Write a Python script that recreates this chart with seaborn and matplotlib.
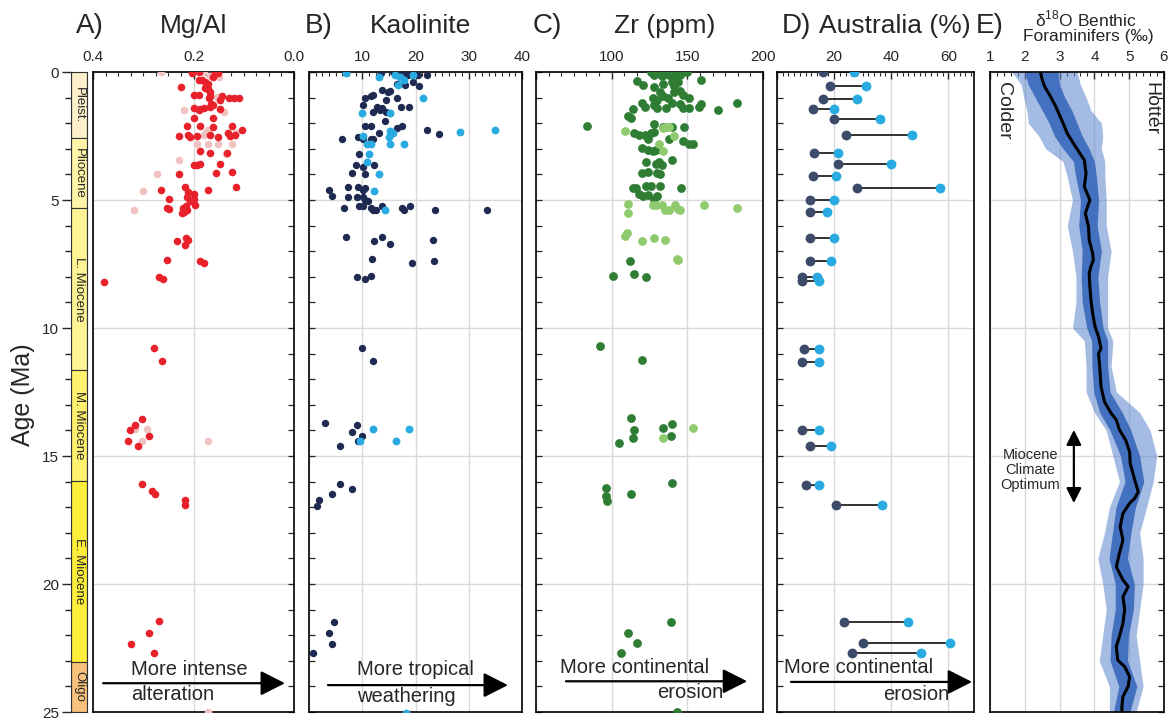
import numpy as np
import pandas as pd
import matplotlib
matplotlib.use("Agg")
import matplotlib.pyplot as plt
from matplotlib.ticker import MultipleLocator
import seaborn as sns

# ---------------- data ----------------
# Geological time scale bar
epoch_names = ["Pleist.", "Pliocene", "L. Miocene", "M. Miocene", "E. Miocene", "Oligo"]
epoch_start = [0.0, 2.58, 5.33, 11.63, 15.97, 23.03]
epoch_end = [2.58, 5.33, 11.63, 15.97, 23.03, 25.0]
epoch_colors = ["#FEF0CA", "#FFF5A8", "#FFF494", "#FFF06E", "#FCEE3A", "#F9C27C"]

# A) Mg/Al
A_red_mgal = [0.202, 0.19, 0.158, 0.152, 0.19, 0.183, 0.178, 0.172, 0.162, 0.224, 0.178, 0.172, 0.168, 0.2, 0.19,
              0.17, 0.168, 0.144, 0.13, 0.12, 0.11, 0.148, 0.162, 0.165, 0.168, 0.2, 0.188, 0.18, 0.19, 0.148,
              0.2, 0.162, 0.212, 0.188, 0.162, 0.124, 0.104, 0.228, 0.21, 0.206, 0.194, 0.168, 0.152, 0.132,
              0.128, 0.118, 0.188, 0.168, 0.134, 0.2, 0.194, 0.188, 0.148, 0.228, 0.156, 0.124, 0.264, 0.216,
              0.172, 0.116, 0.21, 0.2, 0.212, 0.2, 0.207, 0.197, 0.248, 0.252, 0.248, 0.22, 0.215, 0.212, 0.222,
              0.218, 0.232, 0.214, 0.21, 0.217, 0.252, 0.188, 0.18, 0.268, 0.26, 0.378, 0.278, 0.262, 0.302,
              0.316, 0.326, 0.288, 0.33, 0.31, 0.302, 0.282, 0.276, 0.216, 0.216, 0.268, 0.288, 0.324, 0.278]
A_red_age = [0.04, 0.0, 0.0, 0.05, 0.3, 0.3, 0.4, 0.45, 0.2, 0.6, 0.62, 0.65, 0.78, 0.9, 0.9,
             1.0, 0.95, 0.93, 1.0, 1.0, 1.0, 1.1, 1.3, 1.25, 1.38, 1.4, 1.45, 1.42, 1.5, 1.45,
             1.8, 1.8, 2.1, 2.1, 2.15, 2.1, 2.25, 2.5, 2.45, 2.55, 2.5, 2.45, 2.55, 2.4,
             2.5, 2.45, 3.08, 3.15, 3.15, 3.65, 3.65, 3.6, 3.6, 4.0, 3.95, 3.9, 4.6, 4.5,
             4.6, 4.5, 4.7, 4.75, 4.9, 4.95, 5.05, 5.2, 4.96, 5.3, 5.35, 5.3, 5.25, 5.4, 5.5,
             5.45, 6.6, 6.5, 6.55, 6.75, 7.35, 7.4, 7.45, 8.0, 8.1, 8.2, 10.8, 11.3, 13.55,
             13.8, 14.0, 14.2, 14.4, 14.6, 16.1, 16.35, 16.5, 16.7, 16.9, 21.45, 21.9, 22.35, 22.7]
A_pink_mgal = [0.264, 0.18, 0.168, 0.15, 0.155, 0.218, 0.154, 0.14, 0.172, 0.176, 0.18, 0.116, 0.194, 0.172,
               0.152, 0.124, 0.136, 0.228, 0.272, 0.3, 0.318, 0.316, 0.292, 0.302, 0.172, 0.172]
A_pink_age = [0.0, 0.0, 0.15, 0.2, 0.05, 1.5, 0.97, 1.55, 2.25, 2.35, 2.45, 2.4, 2.8, 2.8,
              2.8, 2.8, 3.2, 3.45, 4.0, 4.65, 5.4, 13.95, 13.95, 14.4, 14.4, 25.0]

# B) Kaolinite
B_dark_kao = [13.5, 15.7, 16.4, 17.4, 18.5, 20.5, 22.2, 16.6, 18.1, 19.6, 20.7, 13.8, 14.8, 15.3, 16.6, 12.1,
              11.6, 10.6, 10.1, 12.7, 13.2, 13.8, 14.4, 17.2, 18.7, 12.1, 13.3, 14.4, 15.3, 14.2, 10.6, 11.6,
              16.6, 17.4, 22.2, 24.5, 6.2, 9.2, 10.1, 11.6, 12.1, 13.1, 9.3, 8.8, 10.1, 8.0, 10.6, 12.3, 3.7,
              4.3, 7.3, 7.3, 9.2, 10.1, 10.6, 9.0, 10.1, 10.6, 11.0, 6.5, 9.3, 10.1, 11.6, 12.5, 12.1, 13.8,
              17.5, 17.8, 18.9, 23.7, 33.5, 6.9, 12.3, 13.8, 15.3, 23.2, 11.8, 19.3, 23.4, 9.0, 10.5, 11.6,
              9.9, 12.0, 3.0, 8.0, 9.0, 9.9, 9.2, 5.8, 5.8, 8.0, 4.3, 1.9, 1.5, 4.7, 3.7, 4.3, 0.7]
B_dark_age = [0.05, 0.0, 0.05, 0.05, 0.1, 0.1, 0.1, 0.45, 0.5, 0.4, 0.55, 0.7, 0.8, 0.75, 1.0, 0.9,
              0.95, 1.0, 1.3, 1.35, 1.45, 1.4, 1.1, 1.35, 1.35, 1.55, 1.5, 1.55, 1.6, 1.9, 2.1, 2.1,
              2.2, 2.1, 2.27, 2.42, 2.6, 2.55, 2.6, 2.6, 2.6, 2.4, 3.2, 3.65, 3.7, 3.95, 4.0, 3.63, 4.6,
              4.85, 4.5, 4.9, 4.5, 4.6, 4.55, 4.9, 4.9, 5.0, 5.05, 5.3, 5.25, 5.25, 5.3, 5.4, 5.4, 5.25,
              5.3, 5.4, 5.25, 5.4, 5.4, 6.45, 6.6, 6.45, 6.7, 6.55, 7.3, 7.47, 7.4, 8.0, 8.1, 7.95,
              10.8, 11.3, 13.7, 14.05, 13.8, 14.2, 14.4, 14.6, 16.1, 16.3, 16.5, 16.7, 16.95, 21.5, 21.9, 22.35, 22.7]
B_light_kao = [6.9, 13.1, 16.1, 17.1, 17.8, 19.6, 16.8, 21.5, 9.9, 15.3, 15.3, 15.7, 15.0, 28.4, 35.0, 10.1,
               10.8, 11.6, 15.3, 17.8, 11.2, 10.8, 13.1, 12.3, 14.2, 12.0, 18.7, 9.5, 16.4, 18.3]
B_light_age = [0.05, 0.2, 0.1, 0.2, 0.3, 0.1, 0.5, 1.0, 1.6, 1.6, 2.3, 2.4, 2.55, 2.35, 2.27, 2.5,
               2.8, 2.8, 2.8, 2.8, 3.2, 3.5, 4.0, 4.65, 5.4, 13.95, 13.95, 14.4, 14.4, 25.05]

# C) Zr (ppm)
C_dark_zr = [126, 129, 132, 136, 140, 144, 147, 150, 128, 133, 138, 142, 145, 117, 121, 159, 128, 134, 140, 144,
             141, 132, 134, 137, 141, 145, 147, 151, 127, 130, 120, 122, 128, 130, 136, 140, 145, 147, 151, 158,
             159, 170, 183, 114, 111, 113, 84, 128, 134, 140, 148, 115, 118, 122, 126, 128, 124, 138, 147, 151,
             154, 120, 124, 127, 129, 140, 123, 129, 133, 131, 120, 124, 130, 132, 114, 116, 123, 126, 132, 146,
             118, 121, 124, 128, 130, 112, 101, 115, 123, 92, 120, 113, 115, 114, 105, 134, 140, 139, 96, 96,
             97, 113, 140, 139, 111, 117, 106, 143]
C_dark_age = [0.0, 0.05, 0.0, 0.0, 0.0, 0.0, 0.0, 0.0, 0.12, 0.15, 0.12, 0.1, 0.1, 0.35, 0.5, 0.3, 0.6, 0.45, 0.4, 0.38,
              0.55, 0.8, 0.95, 1.0, 0.8, 0.75, 0.9, 1.0, 1.0, 1.1, 1.2, 1.35, 1.3, 1.4, 1.4, 1.2, 1.25, 1.4, 1.4, 1.35,
              1.25, 1.5, 1.2, 1.45, 1.7, 1.8, 2.1, 2.05, 2.15, 2.15, 2.15, 2.4, 2.45, 2.45, 2.4, 2.35, 2.6, 2.6, 2.7, 2.8,
              2.8, 2.95, 3.05, 3.1, 3.05, 3.45, 3.5, 3.6, 3.65, 3.5, 3.95, 3.9, 3.95, 4.0, 4.55, 4.55, 4.45, 4.45, 4.45, 4.55,
              4.75, 4.85, 4.8, 4.95, 4.85, 7.4, 7.97, 7.9, 8.0, 10.7, 11.25, 13.5, 13.97, 14.3, 14.5, 13.9, 13.75, 14.2, 16.25, 16.55,
              16.75, 16.5, 16.05, 21.5, 21.9, 22.3, 22.7, 25.0]
C_light_zr = [109, 134, 136, 138, 141, 131, 134, 111, 111, 127, 129, 133, 135, 138, 142, 144, 145, 161, 183,
              109, 110, 120, 128, 135, 143, 144, 134, 154]
C_light_age = [2.3, 2.2, 2.15, 2.15, 2.5, 2.8, 3.1, 5.15, 5.5, 5.2, 5.2, 5.2, 5.4, 5.4, 5.2, 5.35, 5.4, 5.2, 5.3,
               6.4, 6.3, 6.6, 6.5, 6.55, 7.3, 7.35, 14.3, 13.9]

# D) Australia (%) - paired estimates
D_age = [0.0, 0.55, 1.06, 1.45, 1.85, 2.46, 3.15, 3.6, 4.06, 4.53, 5.0, 5.45, 6.5, 7.37, 8.0, 8.15,
         10.83, 11.32, 13.98, 14.6, 16.13, 16.9, 21.48, 22.3, 22.7]
D_low = [16.0, 18.4, 16.0, 12.5, 19.9, 24.3, 13.0, 21.4, 12.5, 28.1, 11.6, 11.6, 11.6, 11.6, 8.7, 8.7,
         9.4, 8.7, 8.7, 11.6, 10.1, 20.5, 23.3, 30.2, 26.4]
D_high = [27.1, 31.0, 28.1, 19.9, 36.2, 47.3, 21.5, 40.0, 20.5, 57.1, 19.9, 17.6, 19.9, 19.0, 14.0, 14.6,
          14.6, 14.6, 14.6, 18.8, 14.6, 36.8, 45.9, 60.5, 50.4]

# E) benthic foraminifera d18O: running mean and spread of the data cloud
E_line_age = [0.0, 0.3, 0.57, 0.96, 1.35, 2.0, 2.4, 2.9, 3.44, 3.96, 4.48, 5.0, 5.52, 6.04, 6.56, 7.08, 7.34,
              7.6, 7.86, 8.39, 8.9, 9.43, 9.95, 10.34, 10.79, 11.0, 11.64, 12.29, 12.88, 13.33, 13.59, 13.98,
              14.38, 14.83, 15.29, 15.94, 16.4, 16.65, 16.85, 17.24, 17.76, 18.28, 18.8, 19.33, 19.84, 20.1,
              20.5, 21.0, 21.53, 22.05, 22.45, 22.97, 23.23, 23.62, 24.0, 24.4, 24.8, 25.0]
E_line_d18o = [2.45, 2.5, 2.57, 2.74, 2.89, 3.1, 3.22, 3.45, 3.71, 3.76, 3.71, 3.87, 3.74, 3.83, 3.85, 3.95, 3.97,
               3.9, 3.85, 3.87, 3.9, 3.95, 4.02, 4.12, 4.19, 4.12, 4.16, 4.19, 4.29, 4.48, 4.63, 4.72,
               4.9, 5.01, 5.03, 5.16, 5.26, 5.16, 5.01, 4.82, 4.74, 4.82, 4.72, 4.63, 4.82, 4.97,
               4.82, 4.87, 4.82, 4.72, 4.63, 4.67, 4.87, 5.01, 4.97, 4.82, 4.79, 4.79]
E_band_age = [0, 0.5, 1, 1.5, 2, 2.5, 3, 3.5, 4, 5, 6, 7, 8, 9, 10, 10.5, 11.5, 12.5, 13.3, 14, 15, 16, 17,
              18, 19, 20, 21, 22, 23, 24, 25]
E_outer_lo = [1.63, 1.9, 1.97, 2.06, 2.1, 2.4, 2.6, 3.1, 3.2, 3.37, 3.22, 3.37, 3.47, 3.47, 3.37, 3.71, 3.76,
              3.76, 4.0, 4.34, 4.53, 4.72, 4.43, 4.29, 4.1, 4.24, 4.34, 4.24, 4.14, 4.43, 4.43]
E_outer_hi = [3.5, 3.6, 3.76, 3.9, 4.2, 4.24, 4.2, 4.3, 4.3, 4.34, 4.34, 4.48, 4.38, 4.38, 4.38, 4.53, 4.48,
              4.63, 5.3, 5.6, 5.79, 5.69, 5.5, 5.3, 5.4, 5.4, 5.3, 5.2, 5.3, 5.4, 5.2]
E_core_lo = [2.0, 2.1, 2.3, 2.5, 2.7, 2.85, 3.1, 3.4, 3.45, 3.6, 3.55, 3.65, 3.62, 3.65, 3.78, 3.92, 3.93,
             3.98, 4.15, 4.45, 4.75, 4.88, 4.62, 4.52, 4.42, 4.6, 4.6, 4.48, 4.45, 4.7, 4.55]
E_core_hi = [2.95, 3.0, 3.15, 3.35, 3.5, 3.65, 3.85, 4.0, 4.05, 4.12, 4.08, 4.2, 4.1, 4.15, 4.25, 4.38, 4.38,
             4.45, 4.8, 5.05, 5.3, 5.42, 5.18, 5.05, 4.95, 5.15, 5.12, 4.98, 4.95, 5.22, 5.02]

# ---------------- style ----------------
sns.set_style("ticks")
plt.rcParams['font.family'] = ['Liberation Sans', 'DejaVu Sans']
plt.rcParams['mathtext.fontset'] = 'custom'
plt.rcParams['mathtext.rm'] = 'Liberation Sans'
plt.rcParams['axes.linewidth'] = 1.2

W, H = 1175, 721
TOP, BOT = 72, 712
fig = plt.figure(figsize=(W / 100, H / 100), dpi=100)


def rect(x0, x1):
    return [x0 / W, (H - BOT) / H, (x1 - x0) / W, (BOT - TOP) / H]


GRID = "#d9d9d9"


def setup(ax, xlim, major, labels, minor, left=False, right=False):
    ax.set_xlim(*xlim)
    ax.set_ylim(25, 0)
    ax.set_xlabel("")
    ax.set_ylabel("")
    ax.set_axisbelow(True)
    ax.xaxis.set_ticks_position('top')
    ax.set_xticks(major)
    ax.set_xticklabels(labels)
    ax.xaxis.set_minor_locator(MultipleLocator(minor))
    ax.tick_params(axis='x', which='major', direction='in', length=5, width=1, labelsize=11, pad=6,
                   top=True, bottom=False, labeltop=True, labelbottom=False)
    ax.tick_params(axis='x', which='minor', direction='in', length=3, width=0.8, top=True, bottom=False)
    ax.yaxis.set_major_locator(MultipleLocator(5))
    ax.yaxis.set_minor_locator(MultipleLocator(1))
    ax.tick_params(axis='y', which='both', direction='in', length=4, width=0.9, left=left, right=right,
                   labelleft=False, labelright=False)
    ax.grid(True, which='major', color=GRID, lw=1)
    for s in ax.spines.values():
        s.set_visible(True)
        s.set_color('black')
        s.set_linewidth(1.2)


def arrow_text(ax, x0, x1, y, line1, x_l1, y_l1, line2, x_l2, y_l2, ha2='left'):
    ax.annotate('', xy=(x1, y), xytext=(x0, y), xycoords='axes fraction', textcoords='axes fraction',
                arrowprops=dict(arrowstyle='-|>,head_length=0.75,head_width=0.38', color='black', lw=1.6,
                                mutation_scale=20, shrinkA=0, shrinkB=0))
    ax.text(x_l1, y_l1, line1, transform=ax.transAxes, fontsize=14.5, ha='left', va='center')
    ax.text(x_l2, y_l2, line2, transform=ax.transAxes, fontsize=14.5, ha=ha2, va='center')


# ---------------- epoch bar ----------------
ax0 = fig.add_axes(rect(71, 87))
ep = pd.DataFrame({"name": epoch_names, "start": epoch_start, "end": epoch_end, "color": epoch_colors})
ax0.bar(np.zeros(len(ep)), ep["end"] - ep["start"], bottom=ep["start"], width=1.0,
        color=ep["color"], edgecolor="#333333", linewidth=0.8)
for _, r in ep.iterrows():
    ax0.text(0, (r["start"] + r["end"]) / 2, r["name"], rotation=-90, ha='center', va='center', fontsize=9.5)
ax0.set_xlim(-0.5, 0.5)
ax0.set_ylim(25, 0)
ax0.set_xticks([])
ax0.yaxis.set_major_locator(MultipleLocator(5))
ax0.yaxis.set_minor_locator(MultipleLocator(1))
ax0.tick_params(axis='y', which='major', direction='out', length=6.5, width=1, labelsize=11, pad=2)
ax0.tick_params(axis='y', which='minor', direction='out', length=4, width=1)
for s in ax0.spines.values():
    s.set_linewidth(0.8)
    s.set_color('#333333')
fig.text(23 / W, 1 - 395 / H, "Age (Ma)", rotation=90, ha='center', va='center', fontsize=18)

# ---------------- A) Mg/Al ----------------
axA = fig.add_axes(rect(93, 294))
dfA_r = pd.DataFrame({"mgal": A_red_mgal, "age": A_red_age})
dfA_p = pd.DataFrame({"mgal": A_pink_mgal, "age": A_pink_age})
sns.scatterplot(data=dfA_p, x="mgal", y="age", ax=axA, color="#F1C2C2", s=30, linewidth=0, legend=False, zorder=3)
sns.scatterplot(data=dfA_r, x="mgal", y="age", ax=axA, color="#E8222B", s=30, linewidth=0, legend=False, zorder=4)
setup(axA, (0.4, 0.0), [0.4, 0.2, 0.0], ["0.4", "0.2", "0.0"], 0.025, right=True)
arrow_text(axA, 0.05, 0.955, 0.045, "More intense", 0.19, 0.067, "alteration", 0.19, 0.027)

# ---------------- B) Kaolinite ----------------
axB = fig.add_axes(rect(309, 522))
dfB_d = pd.DataFrame({"kao": B_dark_kao, "age": B_dark_age})
dfB_l = pd.DataFrame({"kao": B_light_kao, "age": B_light_age})
sns.scatterplot(data=dfB_d, x="kao", y="age", ax=axB, color="#1E2A52", s=28, linewidth=0, legend=False, zorder=3)
sns.scatterplot(data=dfB_l, x="kao", y="age", ax=axB, color="#29ABE2", s=32, linewidth=0, legend=False, zorder=4)
setup(axB, (0, 40), [0, 10, 20, 30, 40], ["", "10", "20", "30", "40"], 1.25, left=True)
arrow_text(axB, 0.089, 0.934, 0.042, "More tropical", 0.225, 0.066, "weathering", 0.225, 0.024)

# ---------------- C) Zr ----------------
axC = fig.add_axes(rect(536, 763))
dfC_d = pd.DataFrame({"zr": C_dark_zr, "age": C_dark_age})
dfC_l = pd.DataFrame({"zr": C_light_zr, "age": C_light_age})
sns.scatterplot(data=dfC_d, x="zr", y="age", ax=axC, color="#2F7D34", s=40, linewidth=0, legend=False, zorder=3)
sns.scatterplot(data=dfC_l, x="zr", y="age", ax=axC, color="#8FCB6E", s=40, linewidth=0, legend=False, zorder=4)
setup(axC, (50, 200), [50, 100, 150, 200], ["", "100", "150", "200"], 50 / 6, left=True)
arrow_text(axC, 0.132, 0.93, 0.048, "More continental", 0.106, 0.070, "erosion", 0.824, 0.030, ha2='right')

# ---------------- D) Australia ----------------
axD = fig.add_axes(rect(777, 974))
dfD = pd.DataFrame({"age": D_age, "low": D_low, "high": D_high})
axD.hlines(dfD["age"], dfD["low"], dfD["high"], color="#222222", lw=1.3, zorder=2)
sns.scatterplot(data=dfD, x="low", y="age", ax=axD, color="#3C4B69", s=50, linewidth=0, legend=False, zorder=3)
sns.scatterplot(data=dfD, x="high", y="age", ax=axD, color="#29ABE2", s=50, linewidth=0, legend=False, zorder=4)
setup(axD, (0, 69), [0, 20, 40, 60], ["", "20", "40", "60"], 2, left=True)
arrow_text(axD, 0.071, 0.99, 0.047, "More continental", 0.036, 0.070, "erosion", 0.873, 0.028, ha2='right')

# ---------------- E) d18O ----------------
axE = fig.add_axes(rect(990, 1164))
axE.fill_betweenx(E_band_age, E_outer_lo, E_outer_hi, color="#5A84CC", alpha=0.55, lw=0, zorder=2)
axE.fill_betweenx(E_band_age, E_core_lo, E_core_hi, color="#3E6DBE", alpha=0.95, lw=0, zorder=2)
dfE = pd.DataFrame({"age": E_line_age, "d18o": E_line_d18o})
sns.lineplot(data=dfE, x="d18o", y="age", ax=axE, orient="y", sort=False, color="black", lw=2.2, zorder=4)
setup(axE, (1, 6), [1, 2, 3, 4, 5, 6], ["1", "2", "3", "4", "5", "6"], 0.2, right=True)
axE.text(0.075, 0.985, "Colder", rotation=-90, transform=axE.transAxes, ha='center', va='top', fontsize=14)
axE.text(0.925, 0.985, "Hotter", rotation=-90, transform=axE.transAxes, ha='center', va='top', fontsize=14)
axE.text(2.15, 15.55, "Miocene\nClimate\nOptimum", ha='center', va='center', fontsize=10.5, linespacing=1.1)
axE.annotate('', xy=(3.41, 13.98), xytext=(3.41, 16.84),
             arrowprops=dict(arrowstyle='<|-|>,head_length=0.6,head_width=0.3', color='black', lw=1.6,
                             mutation_scale=15, shrinkA=0, shrinkB=0))

# ---------------- titles ----------------
fig.text(76 / W, 1 - 26 / H, "A)", fontsize=20, ha='left', va='center')
fig.text(194 / W, 1 - 26 / H, "Mg/Al", fontsize=19, ha='center', va='center')
fig.text(305 / W, 1 - 26 / H, "B)", fontsize=20, ha='left', va='center')
fig.text(421 / W, 1 - 26 / H, "Kaolinite", fontsize=19, ha='center', va='center')
fig.text(533 / W, 1 - 26 / H, "C)", fontsize=20, ha='left', va='center')
fig.text(665 / W, 1 - 26 / H, "Zr (ppm)", fontsize=19, ha='center', va='center')
fig.text(782 / W, 1 - 26 / H, "D)", fontsize=20, ha='left', va='center')
fig.text(895 / W, 1 - 26 / H, "Australia (%)", fontsize=19, ha='center', va='center')
fig.text(976 / W, 1 - 26 / H, "E)", fontsize=20, ha='left', va='center')
fig.text(1086 / W, 1 - 19 / H, r"δ$^{18}$O Benthic", fontsize=12.5, ha='center', va='center')
fig.text(1088 / W, 1 - 37 / H, "Foraminifers (‰)", fontsize=12.5, ha='center', va='center')

fig.savefig("out.png", dpi=100)
